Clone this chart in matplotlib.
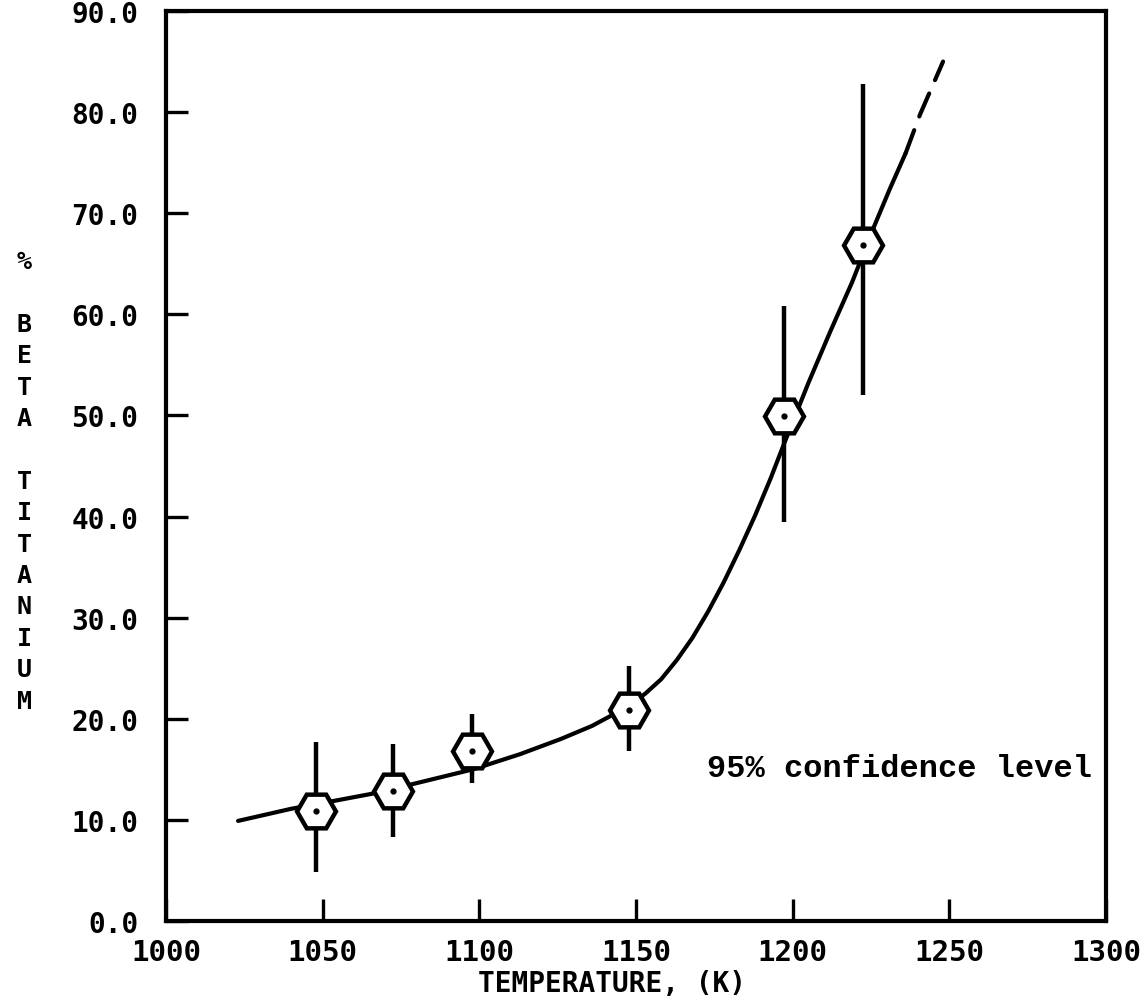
import matplotlib
matplotlib.use("Agg")
import matplotlib.pyplot as plt

# ---- data ----
temps = [1048, 1072.5, 1097.7, 1147.8, 1197.3, 1222.5]
beta_pct = [10.9, 12.9, 16.8, 20.9, 49.9, 66.9]
err_low = [4.8, 8.3, 13.6, 16.8, 39.5, 52.0]
err_high = [17.7, 17.5, 20.5, 25.2, 60.8, 82.8]

curve_x = [1023, 1040, 1054, 1066, 1079.5, 1098, 1113, 1126, 1136, 1142, 1148,
           1153, 1158, 1163, 1168, 1173, 1178, 1183, 1188, 1193, 1197, 1205,
           1212, 1219, 1226, 1231, 1236]
curve_y = [9.9, 11.1, 11.9, 12.6, 13.6, 15.0, 16.5, 18.0, 19.3, 20.3, 21.3,
           22.5, 23.9, 25.8, 28.0, 30.6, 33.5, 36.7, 40.1, 43.8, 47.0, 53.2,
           58.3, 63.2, 68.7, 72.4, 75.9]
extrap_x = [1236, 1240.7, 1248]
extrap_y = [75.9, 79.8, 85.0]

x_ticks = [1000, 1050, 1100, 1150, 1200, 1250, 1300]
y_ticks = [0, 10, 20, 30, 40, 50, 60, 70, 80, 90]
y_label_lines = ["%", "", "B", "E", "T", "A", "", "T", "I", "T", "A", "N", "I", "U", "M"]
x_label = "TEMPERATURE, (K)"
annotation = "95% confidence level"

W, H = 1148, 1003
fig = plt.figure(figsize=(W / 100, H / 100), dpi=100)
ax = fig.add_axes([166 / W, 1 - 922 / H, (1106 - 166) / W, (922 - 12) / H])

ax.set_xlim(1000, 1300)
ax.set_ylim(0, 90)

lw = 3.0
# curve
ax.plot(curve_x, curve_y, color="black", lw=lw, solid_capstyle="round",
        solid_joinstyle="round", zorder=2)
ax.plot(extrap_x, extrap_y, color="black", lw=lw, dashes=(6, 3.5),
        dash_capstyle="round", zorder=2)
# error bars
ax.vlines(temps, err_low, err_high, color="black", lw=3.2, zorder=2)
# hexagon markers
ax.plot(temps, beta_pct, linestyle="none", marker="H", markersize=28,
        markerfacecolor="white", markeredgecolor="black", markeredgewidth=3.2,
        zorder=3)
ax.plot(temps, beta_pct, linestyle="none", marker="o", markersize=3.5,
        color="black", zorder=4)

# axes styling
for s in ax.spines.values():
    s.set_linewidth(3)
    s.set_color("black")
ax.set_xticks(x_ticks)
ax.set_yticks(y_ticks)
ax.set_xticklabels([str(t) for t in x_ticks])
ax.set_yticklabels([f"{t:.1f}" for t in y_ticks])
ax.tick_params(axis="both", direction="in", length=16, width=2.4, color="black")
ax.tick_params(axis="x", pad=12)
ax.tick_params(axis="y", pad=20)
ax.tick_params(top=False, right=False)
for lab in ax.get_xticklabels():
    lab.set_fontfamily("DejaVu Sans Mono")
    lab.set_fontweight("bold")
    lab.set_fontsize(21)
for lab in ax.get_yticklabels():
    lab.set_fontfamily("DejaVu Sans Mono")
    lab.set_fontweight("bold")
    lab.set_fontsize(20)

# x label
fig.text(612 / W, 1 - 984 / H, x_label, ha="center", va="center",
         fontfamily="DejaVu Sans Mono", fontweight="bold", fontsize=20)

# vertical stacked y label
for i, ch in enumerate(y_label_lines):
    if ch:
        fig.text(24 / W, 1 - (262 + i * 31.4) / H, ch, ha="center", va="center",
                 fontfamily="DejaVu Sans Mono", fontweight="bold", fontsize=18)

# annotation
ax.text(0.985, (922 - 769) / (922 - 12), annotation, transform=ax.transAxes,
        ha="right", va="center", fontfamily="Liberation Mono",
        fontweight="bold", fontsize=23)

fig.savefig("out.png", dpi=100)
